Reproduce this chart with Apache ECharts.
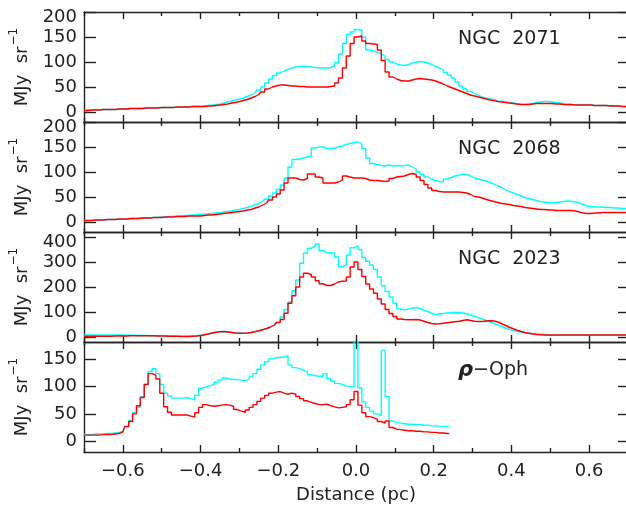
<!DOCTYPE html>
<html>
<head>
<meta charset="utf-8">
<script src="https://cdn.jsdelivr.net/npm/echarts@6/dist/echarts.min.js"></script>
<style>
html,body{margin:0;padding:0;background:#fff;}
#chart{width:626px;height:509px;}
</style>
</head>
<body>
<div id="chart"></div>
<script>
// ---- Data (MJy sr^-1), bins of 0.01 pc starting at -0.70 pc ----
const xStart = -0.70;
const binWidth = 0.01;

const panelNames = ['NGC  2071', 'NGC  2068', 'NGC  2023', '{g|ρ}−Oph'];

// NGC 2071
const ngc2071Cyan = [
  3,3,4,4,4,5,5,5,5,6,
  6,6,7,7,7,7,8,8,8,8,
  9,9,9,9,10,10,10,10,11,11,
  11,12,13,14,15,16,18,20,22,24,
  26,28,31,34,38,44,50,58,66,73,
  78,82,85,88,90,91,91,91,90,89,
  88,88,88,89,92,99,116,137,155,160,
  165,163,150,124,122,120,116,112,105,100,
  96,94,93,95,98,100,101,100,98,95,
  91,88,84,79,74,68,60,52,46,41,
  37,33,30,28,26,24,22,21,20,19,
  18,16,15,15,16,17,19,20,21,21,
  20,19,18,16,15,15,14,14,14,14,
  14,13,13,13,13,12,12,12,11,11,10];
const ngc2071Red = [
  3,3,4,4,4,5,5,5,5,6,
  6,6,7,7,7,7,8,8,8,8,
  9,9,9,9,10,10,10,10,11,11,
  11,11,12,12,13,14,15,16,18,19,
  21,23,25,28,31,35,40,46,50,52,
  54,54,53,52,52,51,51,50,50,50,
  50,50,50,51,52,58,68,88,112,137,
  150,152,142,137,136,135,124,103,80,70,
  66,63,62,62,64,66,67,66,65,64,
  62,59,56,52,49,46,43,40,37,34,
  32,30,28,26,24,23,21,20,19,18,
  17,16,15,15,15,16,17,17,17,17,
  17,16,16,15,15,15,14,14,14,14,
  14,13,13,13,13,12,12,12,11,11,10];

// NGC 2068
const ngc2068Cyan = [
  3,3,3,4,4,4,5,5,5,6,
  6,6,7,7,7,8,8,8,9,9,
  10,10,11,11,12,12,13,13,14,14,
  15,16,16,17,18,19,20,21,22,24,
  25,27,29,31,34,37,41,46,52,58,
  65,74,88,110,125,126,128,130,132,148,
  150,150,147,147,148,150,152,155,157,159,
  160,156,147,128,117,115,113,112,114,112,
  113,112,113,114,110,106,100,95,90,86,
  83,81,80,86,89,92,94,95,95,92,
  88,86,84,82,79,76,72,69,65,61,
  58,55,52,49,47,45,43,41,40,39,
  39,39,40,41,42,41,40,38,35,32,
  31,30,30,30,29,29,28,28,27,27,27];
const ngc2068Red = [
  3,3,3,4,4,4,5,5,5,6,
  6,6,7,7,7,8,8,8,9,9,
  9,10,10,10,11,11,11,12,12,12,
  12,13,14,14,15,16,17,18,19,20,
  21,22,24,25,28,30,34,38,44,50,
  56,64,78,88,88,85,84,87,96,96,
  90,88,78,78,78,80,84,92,90,88,
  88,88,87,84,83,83,82,81,82,87,
  90,91,92,95,97,95,90,83,75,68,
  63,61,60,60,60,60,60,59,58,55,
  51,50,48,45,43,41,39,37,36,35,
  33,32,31,29,28,27,26,25,25,24,
  24,23,23,23,23,23,22,20,18,17,
  17,18,18,19,19,19,19,19,19,19,19];

// NGC 2023
const ngc2023Cyan = [
  8,8,8,8,8,8,8,8,8,8,
  8,7,7,7,6,6,6,5,5,5,
  5,4,4,4,3,3,3,3,4,5,
  7,9,12,16,19,21,22,20,18,16,
  15,15,16,18,21,25,29,34,40,48,
  58,80,110,140,185,228,295,335,355,362,
  372,345,338,337,335,320,282,288,328,357,
  365,350,318,303,288,270,240,205,182,160,
  135,112,109,112,116,118,114,107,102,95,
  90,92,94,96,97,98,97,96,93,88,
  83,77,72,66,60,54,48,42,36,31,
  26,22,19,16,15,13,12,11,10,9,
  8,8,8,8,8,8,8,8,8,8,
  8,8,8,8,8,8,8,8,8,8,8];
const ngc2023Red = [
  3,3,3,3,3,3,3,3,4,4,
  4,4,5,5,5,5,5,5,5,4,
  4,4,3,3,3,2,2,2,3,4,
  6,9,12,16,19,21,22,20,18,16,
  15,15,16,18,21,25,29,34,40,48,
  58,70,95,135,165,200,240,255,250,240,
  225,213,206,206,212,220,223,224,240,280,
  300,270,242,212,192,175,152,132,110,94,
  82,72,70,69,69,70,68,63,58,54,
  52,53,55,57,59,61,63,66,69,66,
  63,62,62,64,65,64,60,53,46,39,
  33,27,22,18,15,12,10,9,8,8,
  8,8,8,8,8,8,8,8,8,8,
  8,8,8,8,8,8,8,8,8,8,8];

// rho-Oph (data end at 0.24 pc)
const rhoOphCyan = [
  12,12,12,13,13,13,14,14,15,16,
  18,26,38,52,62,81,104,128,133,124,
  104,88,83,79,79,79,80,78,76,84,
  97,100,102,104,108,112,116,114,113,113,
  112,111,114,118,124,132,140,146,151,153,
  154,154,157,140,135,133,130,127,122,120,
  119,119,124,115,110,106,104,101,100,100,
  200,98,72,62,55,50,47,167,82,37,
  34,33,32,31,31,30,30,29,29,28,
  28,27,27,27,26];
const rhoOphRed = [
  11,11,11,11,11,12,12,12,13,14,
  17,27,36,50,65,80,104,124,121,114,
  88,63,53,48,48,48,48,46,44,52,
  62,67,65,64,65,66,67,66,64,58,
  55,53,57,62,67,73,79,84,88,90,
  91,88,86,88,86,82,78,74,71,69,
  67,67,68,65,63,61,62,63,67,76,
  91,66,52,45,43,40,36,33,37,25,
  22,21,20,19,19,18,18,17,17,16,
  16,15,15,14,14];

const cyanSeries = [ngc2071Cyan, ngc2068Cyan, ngc2023Cyan, rhoOphCyan];
const redSeries  = [ngc2071Red,  ngc2068Red,  ngc2023Red,  rhoOphRed];

// axis ranges & ticks
const xMin = -0.7, xMax = 0.7;
const xMajorTicks = [-0.6, -0.4, -0.2, 0.0, 0.2, 0.4, 0.6];
const xMinorTicks = [-0.7, -0.5, -0.3, -0.1, 0.1, 0.3, 0.5, 0.7];
const yMins = [-20, -20, -20, -20];
const yMaxs = [200, 200, 420, 182];
const yTickValues = [
  [0, 50, 100, 150, 200],
  [0, 50, 100, 150, 200],
  [0, 100, 200, 300, 400],
  [0, 50, 100, 150]
];
// top tick label of each panel that sits lower than its tick
const yLoweredLabel = [200, 200, 400, null];

// ---- Layout / style ----
const FONT = 'DejaVu Sans';
const INK = '#222';
const gridLeft = 84, gridWidth = 544, gridTop0 = 12, gridH = 110;
const axisLineStyle = { color: INK, width: 1.4 };

function xs(n) {
  const out = [];
  for (let i = 0; i < n; i++) out.push(Math.round((xStart + i * binWidth) * 100) / 100);
  return out;
}
function fmtX(v) {
  const s = Math.abs(v).toFixed(1);
  return (v < -1e-9 ? '−' : '') + s;
}

const grids = [], xAxes = [], yAxes = [], series = [], titles = [];
for (let p = 0; p < 4; p++) {
  grids.push({ left: gridLeft, width: gridWidth, top: gridTop0 + gridH * p, height: gridH,
               outerBoundsMode: 'none', containLabel: false });
  const isLast = p === 3;
  // bottom main
  xAxes.push({
    gridIndex: p, type: 'value', min: xMin, max: xMax, position: 'bottom',
    axisLine: { show: true, onZero: false, lineStyle: axisLineStyle },
    axisTick: { show: true, inside: true, length: 7, customValues: xMajorTicks, lineStyle: axisLineStyle },
    axisLabel: { show: isLast, customValues: xMajorTicks, formatter: fmtX, fontSize: 18,
                 fontFamily: FONT, color: INK, margin: 10 },
    splitLine: { show: false },
    name: isLast ? 'Distance (pc)' : '', nameLocation: 'middle', nameGap: 34,
    nameTextStyle: { fontSize: 18, fontFamily: FONT, color: INK }
  });
  // bottom minor
  xAxes.push({
    gridIndex: p, type: 'value', min: xMin, max: xMax, position: 'bottom',
    axisLine: { show: false, onZero: false },
    axisTick: { show: true, inside: true, length: 4, customValues: xMinorTicks, lineStyle: axisLineStyle },
    axisLabel: { show: false }, splitLine: { show: false }
  });
  // top main
  xAxes.push({
    gridIndex: p, type: 'value', min: xMin, max: xMax, position: 'top',
    axisLine: { show: true, onZero: false, lineStyle: axisLineStyle },
    axisTick: { show: true, inside: true, length: 7, customValues: xMajorTicks, lineStyle: axisLineStyle },
    axisLabel: { show: false }, splitLine: { show: false }
  });
  // top minor
  xAxes.push({
    gridIndex: p, type: 'value', min: xMin, max: xMax, position: 'top',
    axisLine: { show: false, onZero: false },
    axisTick: { show: true, inside: true, length: 4, customValues: xMinorTicks, lineStyle: axisLineStyle },
    axisLabel: { show: false }, splitLine: { show: false }
  });
  // left y
  const lowered = yLoweredLabel[p];
  yAxes.push({
    gridIndex: p, type: 'value', min: yMins[p], max: yMaxs[p], position: 'left',
    axisLine: { show: true, onZero: false, lineStyle: axisLineStyle },
    axisTick: { show: true, inside: true, length: 12, customValues: yTickValues[p], lineStyle: axisLineStyle },
    axisLabel: {
      show: true, customValues: yTickValues[p], fontSize: 18, fontFamily: FONT, color: INK, margin: 7,
      showMinLabel: true, showMaxLabel: true, hideOverlap: false,
      formatter: function (v) { return (lowered !== null && Math.abs(v - lowered) < 1e-6) ? '{t|' + v + '}' : String(v); },
      rich: { t: { fontSize: 18, fontFamily: FONT, color: INK, padding: [11, 0, 0, 0] } }
    },
    splitLine: { show: false },
    name: '{a|MJy  sr}{b|−1}', nameLocation: 'middle', nameRotate: 90, nameGap: 52,
    nameTextStyle: {
      fontFamily: FONT, color: INK, fontSize: 18,
      rich: {
        a: { fontFamily: FONT, color: INK, fontSize: 18, lineHeight: 24, verticalAlign: 'bottom' },
        b: { fontFamily: FONT, color: INK, fontSize: 12, lineHeight: 24, verticalAlign: 'top', padding: [0, 0, 8, 1] }
      }
    }
  });
  // right y
  yAxes.push({
    gridIndex: p, type: 'value', min: yMins[p], max: yMaxs[p], position: 'right',
    axisLine: { show: true, onZero: false, lineStyle: axisLineStyle },
    axisTick: { show: true, inside: true, length: 10, customValues: yTickValues[p], lineStyle: axisLineStyle },
    axisLabel: { show: false }, splitLine: { show: false }
  });

  const xv = xs(cyanSeries[p].length);
  series.push({
    type: 'line', step: 'middle', xAxisIndex: 4 * p, yAxisIndex: 2 * p,
    data: cyanSeries[p].map((v, i) => [xv[i], v]),
    showSymbol: false, symbol: 'none', clip: true, silent: true,
    lineStyle: { color: '#00ffff', width: 1.4 }, z: 2
  });
  const xr = xs(redSeries[p].length);
  series.push({
    type: 'line', step: 'middle', xAxisIndex: 4 * p, yAxisIndex: 2 * p,
    data: redSeries[p].map((v, i) => [xr[i], v]),
    showSymbol: false, symbol: 'none', clip: true, silent: true,
    lineStyle: { color: '#ff0000', width: 1.4 }, z: 3
  });

  titles.push({
    text: panelNames[p], left: 458, top: gridTop0 + gridH * p + 18, padding: 0,
    textStyle: {
      fontSize: 19, fontWeight: 'normal', fontFamily: FONT, color: INK,
      rich: { g: { fontSize: 21, fontStyle: 'italic', fontWeight: 'bold', fontFamily: FONT, color: INK } }
    }
  });
}

const chart = echarts.init(document.getElementById('chart'), null, { renderer: 'canvas' });
chart.setOption({
  animation: false,
  backgroundColor: '#ffffff',
  title: titles,
  grid: grids,
  xAxis: xAxes,
  yAxis: yAxes,
  series: series
});
</script>
</body>
</html>
